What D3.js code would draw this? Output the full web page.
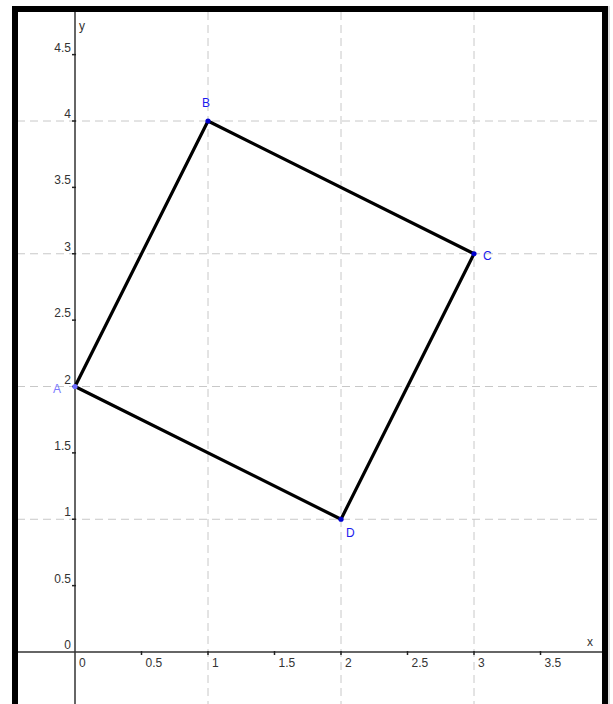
<!DOCTYPE html>
<html><head><meta charset="utf-8">
<script src="https://cdn.jsdelivr.net/npm/d3@7"></script>
<style>html,body{margin:0;padding:0;background:#fff}svg{display:block}</style>
</head><body>
<script>
const pointNames = ["A", "B", "C", "D"];
const pointX = [0, 1, 3, 2];
const pointY = [2, 4, 3, 1];
const xTickValues = [0, 0.5, 1, 1.5, 2, 2.5, 3, 3.5];
const xTickLabels = ["0", "0.5", "1", "1.5", "2", "2.5", "3", "3.5"];
const yTickValues = [0, 0.5, 1, 1.5, 2, 2.5, 3, 3.5, 4, 4.5];
const yTickLabels = ["0", "0.5", "1", "1.5", "2", "2.5", "3", "3.5", "4", "4.5"];
const xGrid = [1, 2, 3];
const yGrid = [1, 2, 3, 4];

(function () {
const W = 613, H = 704;
const pL = 17, pR = 602, pT = 12, pB = 704;
const x = d3.scaleLinear().domain([0, 4]).range([75, 607]);
const y = d3.scaleLinear().domain([0, 4]).range([652, 121]);

const svg = d3.select("body").append("svg").attr("width", W).attr("height", H);
svg.append("rect").attr("width", W).attr("height", H).attr("fill", "#fff");
svg.append("clipPath").attr("id", "c").append("rect")
  .attr("x", pL).attr("y", pT).attr("width", pR - pL).attr("height", pB - pT);
const g = svg.append("g").attr("clip-path", "url(#c)");

// grid
g.selectAll(".gx").data(xGrid).join("line")
  .attr("x1", d => x(d)).attr("x2", d => x(d)).attr("y1", pT).attr("y2", pB)
  .attr("stroke", "#c8c8c8").attr("stroke-width", 1).attr("stroke-dasharray", "8,5");
g.selectAll(".gy").data(yGrid).join("line")
  .attr("y1", d => y(d)).attr("y2", d => y(d)).attr("x1", pL).attr("x2", pR)
  .attr("stroke", "#c8c8c8").attr("stroke-width", 1).attr("stroke-dasharray", "8,5");

// axes lines
g.append("line").attr("x1", pL).attr("x2", pR).attr("y1", y(0)).attr("y2", y(0))
  .attr("stroke", "#333").attr("stroke-width", 1.5);
g.append("line").attr("x1", x(0)).attr("x2", x(0)).attr("y1", pT).attr("y2", pB)
  .attr("stroke", "#333").attr("stroke-width", 1.5);

// ticks
g.selectAll(".tx").data(xTickValues.filter(v => v !== 0)).join("line")
  .attr("x1", d => x(d)).attr("x2", d => x(d)).attr("y1", y(0) - 1).attr("y2", y(0) + 3)
  .attr("stroke", "#222").attr("stroke-width", 1.5);
g.selectAll(".ty").data(yTickValues.filter(v => v !== 0)).join("line")
  .attr("y1", d => y(d)).attr("y2", d => y(d)).attr("x1", x(0) - 3).attr("x2", x(0) + 1)
  .attr("stroke", "#222").attr("stroke-width", 1.5);

// tick labels
const font = "'Liberation Sans', Arial, sans-serif";
g.selectAll(".lx").data(xTickValues).join("text")
  .attr("x", d => x(d) + 4).attr("y", y(0) + 15)
  .attr("font-family", font).attr("font-size", 12).attr("fill", "#333")
  .text((d, i) => xTickLabels[i]);
g.selectAll(".ly").data(yTickValues).join("text")
  .attr("x", x(0) - 4).attr("y", d => y(d) - 3).attr("text-anchor", "end")
  .attr("font-family", font).attr("font-size", 12).attr("fill", "#333")
  .text((d, i) => yTickLabels[i]);

g.append("text").attr("x", 587).attr("y", 646).attr("font-family", font).attr("font-size", 12).attr("fill", "#333").text("x");
g.append("text").attr("x", 79).attr("y", 30).attr("font-family", font).attr("font-size", 12).attr("fill", "#333").text("y");

// polygon
const pts = pointNames.map((n, i) => [x(pointX[i]), y(pointY[i])]);
g.append("path").attr("d", d3.line()(pts) + "Z")
  .attr("fill", "none").attr("stroke", "#000").attr("stroke-width", 3.2).attr("stroke-linejoin", "round");

const colors = ["#7a7aff", "#1a1aee", "#1a1aee", "#1a1aee"];
const dotColors = ["#6b6bff", "#0000cc", "#0000cc", "#0000cc"];
g.selectAll(".pt").data(pts).join("circle")
  .attr("cx", d => d[0]).attr("cy", d => d[1]).attr("r", 2.6)
  .attr("fill", (d, i) => dotColors[i]);

const labOff = [[-14, 6, "end"], [-2, -14, "middle"], [9, 6, "start"], [5, 18, "start"]];
g.selectAll(".pl").data(pts).join("text")
  .attr("x", (d, i) => d[0] + labOff[i][0]).attr("y", (d, i) => d[1] + labOff[i][1])
  .attr("text-anchor", (d, i) => labOff[i][2])
  .attr("font-family", font).attr("font-size", 12).attr("fill", (d, i) => colors[i])
  .text((d, i) => pointNames[i]);

// frame
svg.append("rect").attr("x", 15).attr("y", 9).attr("width", 590).attr("height", 800)
  .attr("fill", "none").attr("stroke", "#000").attr("stroke-width", 6);
svg.append("line").attr("x1", 609).attr("x2", 609).attr("y1", 6).attr("y2", H)
  .attr("stroke", "#bbb").attr("stroke-width", 1);
})();
</script>
</body></html>
